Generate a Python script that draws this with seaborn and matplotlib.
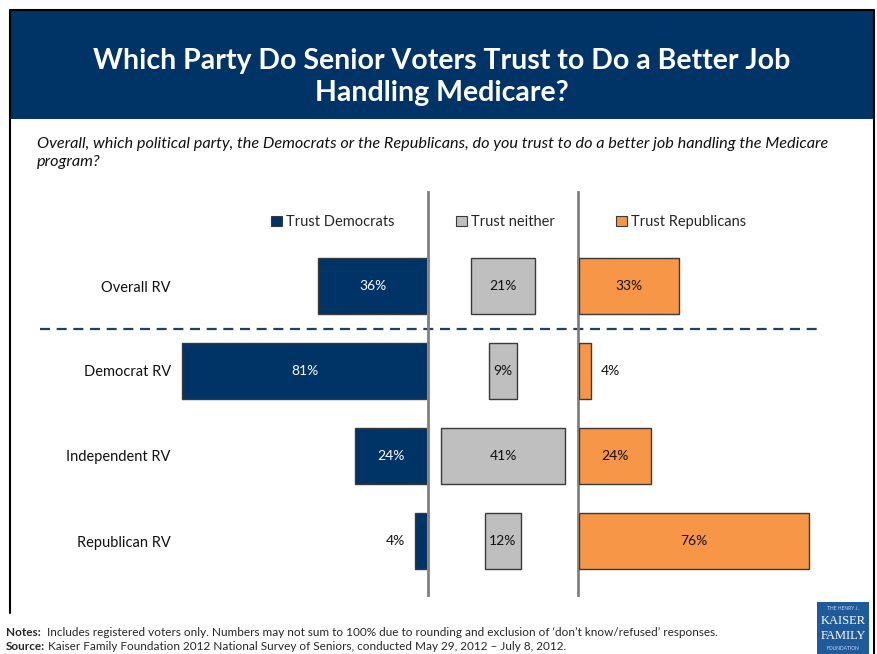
import matplotlib
matplotlib.use("Agg")
import matplotlib.pyplot as plt
import seaborn as sns
import numpy as np
from matplotlib.patches import Rectangle, Patch
from matplotlib.lines import Line2D

groups = ["Overall RV", "Democrat RV", "Independent RV", "Republican RV"]
dem = [36, 81, 24, 4]
neither = [21, 9, 41, 12]
rep = [33, 4, 24, 76]
series_names = ["Trust Democrats", "Trust neither", "Trust Republicans"]

title = "Which Party Do Senior Voters Trust to Do a Better Job\nHandling Medicare?"
subtitle = ("Overall, which political party, the Democrats or the Republicans, do you trust to do a better job handling the Medicare\n"
            "program?")
notes = "Includes registered voters only. Numbers may not sum to 100% due to rounding and exclusion of \u2018don\u2019t know/refused\u2019 responses."
source = "Kaiser Family Foundation 2012 National Survey of Seniors, conducted May 29, 2012 \u2013 July 8, 2012."

C_DEM = "#003366"
C_NEI = "#BFBFBF"
C_REP = "#F79646"
EDGE = "#3a3a3a"

sns.set_theme(style="white")
plt.rcParams["font.family"] = ["Lato", "DejaVu Sans"]

W, H = 877, 654
fig = plt.figure(figsize=(W / 100, H / 100), dpi=100)

def rect(x0, y0, x1, y1):
    return [x0 / W, 1 - y1 / H, (x1 - x0) / W, (y1 - y0) / H]

bg = fig.add_axes([0, 0, 1, 1], zorder=0)
bg.set_xlim(0, W)
bg.set_ylim(H, 0)
bg.axis("off")
bg.add_patch(Rectangle((11, 11), 862, 108, facecolor="#003366", edgecolor="none"))
for xs, ys in [([10, 874], [10, 10]), ([10, 10], [10, 613]), ([874, 874], [10, 660])]:
    bg.add_line(Line2D(xs, ys, color="black", lw=1.5))
bg.text(442, 77, title, color="white", fontsize=20.5, fontweight="bold",
        ha="center", va="center", linespacing=1.25)
bg.text(37, 153, subtitle, color="#111111", fontsize=11.7, style="italic",
        ha="left", va="center", linespacing=1.4)
bg.add_line(Line2D([40, 822], [329, 329], color="#1F3F66", lw=1.6, ls=(0, (4.5, 3))))

# notes
t1 = bg.text(6, 633, "Notes:", fontsize=8.5, fontweight="bold", va="center", ha="left")
bg.annotate("  " + notes, xy=(1, 0.5), xycoords=t1, va="center", ha="left", fontsize=8.5)
t2 = bg.text(6, 646, "Source:", fontsize=8.5, fontweight="bold", va="center", ha="left")
bg.annotate(" " + source, xy=(1, 0.5), xycoords=t2, va="center", ha="left", fontsize=8.5)

# logo
bg.add_patch(Rectangle((817, 602), 52, 60, facecolor="#1F5A9B", edgecolor="none"))
bg.text(843, 609, "THE HENRY J.", color="#cfdcef", fontsize=3.5, ha="center", va="center")
bg.text(843, 621, "KAISER", color="white", fontsize=9, ha="center", va="center", family="Liberation Serif")
bg.text(843, 636, "FAMILY", color="white", fontsize=9, ha="center", va="center", family="Liberation Serif")
bg.text(843, 649, "FOUNDATION", color="#cfdcef", fontsize=3.5, ha="center", va="center")

PX = 3.02  # pixels per percentage point
Y0, Y1 = 192, 595
ylim = (3 + (Y1 - 541) / 85, -(286 - Y0) / 85)
BW = 0.67

# Democrats (left, reversed)
axl = fig.add_axes(rect(175, Y0, 427, Y1), zorder=2)
sns.barplot(x=dem, y=groups, orient="h", color=C_DEM, width=BW, edgecolor=EDGE,
            linewidth=1, saturation=1, ax=axl)
axl.set_xlim((427 - 175) / PX, 0)
axl.set_ylim(*ylim)
axl.set_xticks([])
axl.tick_params(axis="y", length=0, pad=3, labelsize=10.5, labelcolor="#111111")
axl.set_xlabel("")
axl.set_ylabel("")
for s in axl.spines.values():
    s.set_visible(False)
axl.patch.set_alpha(0)
for i, v in enumerate(dem):
    if v >= 8:
        axl.text(v / 2, i, f"{v}%", color="white", ha="center", va="center", fontsize=10)
    else:
        axl.text(v + 6.5, i, f"{v}%", color="#111111", ha="center", va="center", fontsize=10)

# Neither (middle, centred)
axm = fig.add_axes(rect(428, Y0, 578, Y1), zorder=2)
nv = np.array(neither, dtype=float)
axm.barh(np.arange(len(groups)), nv, left=-nv / 2, height=BW, color=C_NEI,
         edgecolor=EDGE, linewidth=1)
half = (578 - 428) / PX / 2
axm.set_xlim(-half, half)
axm.set_ylim(*ylim)
axm.set_xticks([])
axm.set_yticks([])
for k in ("top", "bottom"):
    axm.spines[k].set_visible(False)
for k in ("left", "right"):
    axm.spines[k].set_color("#808080")
    axm.spines[k].set_linewidth(2)
axm.patch.set_alpha(0)
for i, v in enumerate(neither):
    axm.text(0, i, f"{v}%", color="#111111", ha="center", va="center", fontsize=10)

# Republicans (right)
axr = fig.add_axes(rect(579, Y0, 830, Y1), zorder=2)
sns.barplot(x=rep, y=groups, orient="h", color=C_REP, width=BW, edgecolor=EDGE,
            linewidth=1, saturation=1, ax=axr)
axr.set_xlim(0, (830 - 579) / PX)
axr.set_ylim(*ylim)
axr.set_xticks([])
axr.set_yticks([])
axr.set_xlabel("")
axr.set_ylabel("")
for s in axr.spines.values():
    s.set_visible(False)
axr.patch.set_alpha(0)
for i, v in enumerate(rep):
    if v >= 8:
        axr.text(v / 2, i, f"{v}%", color="#111111", ha="center", va="center", fontsize=10)
    else:
        axr.text(v + 6.5, i, f"{v}%", color="#111111", ha="center", va="center", fontsize=10)

# legends
for name, col, px in zip(series_names, [C_DEM, C_NEI, C_REP], [271, 456, 616]):
    leg = fig.legend(handles=[Patch(facecolor=col, edgecolor=EDGE, linewidth=0.8, label=name)],
                     loc="center left", bbox_to_anchor=(px / W, 1 - 222 / H),
                     frameon=False, handlelength=0.75, handleheight=0.75,
                     handletextpad=0.25, borderpad=0, borderaxespad=0, fontsize=10.5)

fig.savefig("out.png", dpi=100)
